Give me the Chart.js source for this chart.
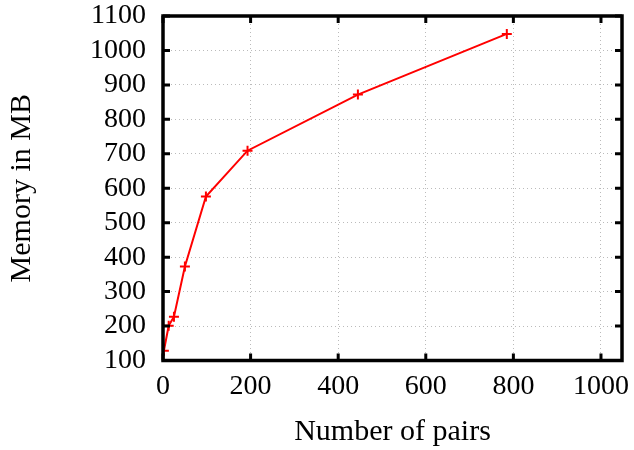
<!DOCTYPE html>
<html><head><meta charset="utf-8">
<script src="https://cdn.jsdelivr.net/npm/chart.js@4"></script>
<style>html,body{margin:0;padding:0;background:#fff}#c{display:block}</style>
</head><body>
<canvas id="c" width="634" height="450"></canvas>
<script>
const pairs = [2, 13, 25, 50, 98, 193, 445, 785];
const memoryMB = [128, 201, 227, 373, 576, 709, 872, 1048];
const xTicks = [0, 200, 400, 600, 800, 1000];
const yTicks = [100, 200, 300, 400, 500, 600, 700, 800, 900, 1000, 1100];

const FONT = '"Liberation Serif", "DejaVu Serif", serif';

const framePlugin = {
  id: 'frame',
  afterDatasetsDraw(chart) {
    const {ctx, chartArea: a, scales: {x, y}} = chart;
    ctx.save();
    ctx.strokeStyle = '#000';
    ctx.lineWidth = 3;
    ctx.lineCap = 'butt';
    ctx.beginPath();
    const L = 7;
    xTicks.forEach(v => {
      const px = x.getPixelForValue(v);
      ctx.moveTo(px, a.bottom); ctx.lineTo(px, a.bottom - L);
      ctx.moveTo(px, a.top); ctx.lineTo(px, a.top + L);
    });
    yTicks.forEach(v => {
      const py = y.getPixelForValue(v);
      ctx.moveTo(a.left, py); ctx.lineTo(a.left + L, py);
      ctx.moveTo(a.right, py); ctx.lineTo(a.right - L, py);
    });
    ctx.stroke();
    ctx.lineWidth = 3.5;
    ctx.strokeRect(a.left, a.top, a.right - a.left, a.bottom - a.top);
    ctx.restore();
  }
};

new Chart(document.getElementById('c'), {
  type: 'scatter',
  data: {
    datasets: [{
      data: pairs.map((p, i) => ({x: p, y: memoryMB[i]})),
      showLine: true,
      borderColor: '#ff0000',
      backgroundColor: '#ff0000',
      borderWidth: 2,
      pointStyle: 'cross',
      pointRadius: 5,
      pointBorderWidth: 2,
      pointBorderColor: '#ff0000',
      tension: 0
    }]
  },
  options: {
    responsive: false,
    animation: false,
    layout: {padding: {left: 4, right: 12, top: 16, bottom: 0}},
    plugins: {legend: {display: false}, tooltip: {enabled: false}},
    scales: {
      x: {
        type: 'linear', min: 0, max: 1048,
        afterBuildTicks(s) { s.ticks = xTicks.map(v => ({value: v})); },
        afterFit(s) { s.height = 89.5; s.paddingLeft = 0; s.paddingRight = 0; },
        grid: {color: '#bbbbbb', lineWidth: 1, drawTicks: false},
        border: {display: false, dash: [1, 3]},
        ticks: {color: '#000', font: {family: FONT, size: 28}, padding: 9, maxRotation: 0, autoSkip: false, callback: v => String(v)},
        title: {display: true, text: 'Number of pairs', color: '#000', font: {family: FONT, size: 30}, padding: {top: 2, bottom: 0}}
      },
      y: {
        type: 'linear', min: 100, max: 1100,
        afterBuildTicks(s) { s.ticks = yTicks.map(v => ({value: v})); },
        afterFit(s) { s.width = 159; s.paddingTop = 0; s.paddingBottom = 0; },
        grid: {color: '#bbbbbb', lineWidth: 1, drawTicks: false},
        border: {display: false, dash: [1, 3]},
        ticks: {color: '#000', font: {family: FONT, size: 28, lineHeight: 1}, padding: 17, autoSkip: false, callback: v => String(v)},
        title: {display: true, text: 'Memory in MB', color: '#000', font: {family: FONT, size: 30}, padding: {top: 0, bottom: 0}}
      }
    }
  },
  plugins: [framePlugin]
});
</script>
</body></html>
